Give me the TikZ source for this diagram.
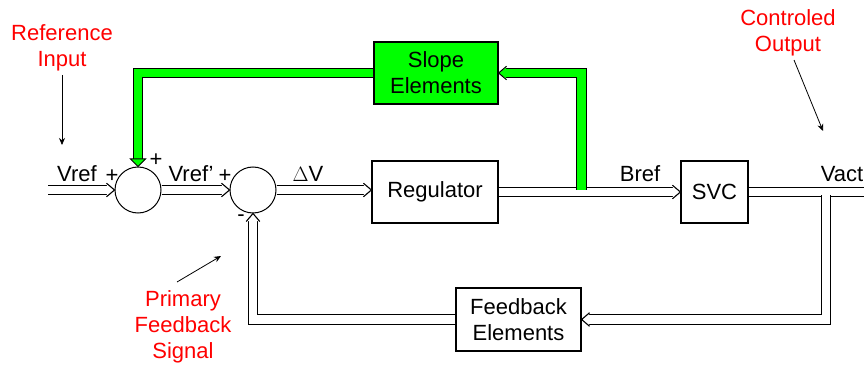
\documentclass[tikz,border=0pt]{standalone}
\usepackage{fontspec}
\setmainfont{Liberation Sans}
\usetikzlibrary{arrows.meta}
\definecolor{slopegreen}{RGB}{0,255,0}
\definecolor{labred}{RGB}{255,0,0}
\begin{document}
\begin{tikzpicture}[x=1pt,y=-1pt,
  every node/.style={font=\fontsize{22}{26}\selectfont, inner sep=0pt},
  blk/.style={draw=black, line width=1.2pt, align=center},
  sum/.style={circle, draw=black, line width=1pt, minimum size=46pt},
  sig/.style={draw=black, double=white, double distance=8.5pt, line width=1.1pt},
  sigend/.style={sig, shorten >=7pt},
  gband/.style={draw=black, double=slopegreen, double distance=8.5pt, line width=1pt},
  lab/.style={text=labred, align=center},
  txt/.style={text=black},
  pointer/.style={draw=black, line width=0.8pt, -{Stealth[length=7pt,width=6pt]}},
  dhead/.pic={
    \fill[white] (-7.6,-5.6) -- (0,0) -- (-7.6,5.6) -- cycle;
    \draw[line width=1.1pt, miter limit=10] (-8,-6.8) -- (0,0) -- (-8,6.8);},
  ghead/.pic={
    \fill[slopegreen] (-7.6,-5.6) -- (0,0) -- (-7.6,5.6) -- cycle;
    \draw[line width=1pt, miter limit=10] (-8,-6.8) -- (0,0) -- (-8,6.8);}]
\useasboundingbox (0,0) rectangle (864,366);

% blocks
\node[sum] (s1) at (138,190) {};
\node[sum] (s2) at (253,190) {};
\node[blk, minimum width=126pt, minimum height=62pt] (reg) at (435,192) {Regulator};
\node[blk, minimum width=67pt, minimum height=62pt] (svc) at (714.5,192) {SVC};
\node[blk, minimum width=125pt, minimum height=63pt] (fb) at (518.5,319.5) {Feedback\\Elements};
\node[blk, fill=slopegreen, minimum width=124pt, minimum height=62pt] (slope) at (436,73) {Slope\\Elements};

% coordinates
\coordinate (in) at (48,190);
\coordinate (out) at (864,192);
\coordinate (br) at (826,195.5);
\coordinate (gb) at (581.5,190);
\coordinate (ga) at (138,159);

% signal connectors
\draw[sigend] (in) -- (s1.west);
\pic at (s1.west) {dhead};
\draw[sigend] (s1.east) -- (s2.west);
\pic at (s2.west) {dhead};
\draw[sigend] (s2.east) -- (reg.west |- s2.east);
\pic at (reg.west |- s2.east) {dhead};
\draw[sigend] (reg.east) -- (svc.west);
\pic at (svc.west) {dhead};
\draw[sig] (svc.east) -- (out);
\draw[sigend] (br) |- (fb.east);
\pic[rotate=180] at (fb.east) {dhead};
\draw[sigend] (fb.west) -| (s2.south);
\pic[rotate=90] at (s2.south) {dhead};

% green slope path
\draw[gband, shorten >=7pt] (gb) |- (slope.east);
\pic[rotate=180] at (slope.east) {ghead};
\draw[gband] (slope.west) -| (ga);
\draw[fill=slopegreen, line width=1pt] ([xshift=-7.5pt]ga) -- ([xshift=7.5pt]ga) -- (s1.north) -- cycle;

% signal labels
\node[txt] (lvref) at (77,174) {Vref};
\node[txt] (lp1) at (112,176) {+};
\node[txt] (lp2) at (156,160) {+};
\node[txt] (lvrefp) at (191,174) {Vref'};
\node[txt] (lp3) at (225,176) {+};
\node[txt] (lminus) at (241,218) {-};
\node[txt] (ldv) at (308,174) {$\Delta$V};
\node[txt] (lbref) at (640,174) {Bref};
\node[txt] (lvact) at (842,174) {Vact};

% red annotations
\node[lab] (refin) at (62,48) {Reference\\Input};
\node[lab] (ctrl) at (788,33) {Controled\\Output};
\node[lab] (prim) at (183,327) {Primary\\Feedback\\Signal};
\coordinate (refin1) at (62,75);
\coordinate (refin2) at (62,145);
\coordinate (ctrl1) at (794,60);
\coordinate (ctrl2) at (823,131);
\coordinate (prim1) at (177,282);
\coordinate (prim2) at (221,256);
\draw[pointer] (refin1) -- (refin2);
\draw[pointer] (ctrl1) -- (ctrl2);
\draw[pointer] (prim1) -- (prim2);
\end{tikzpicture}
\end{document}
